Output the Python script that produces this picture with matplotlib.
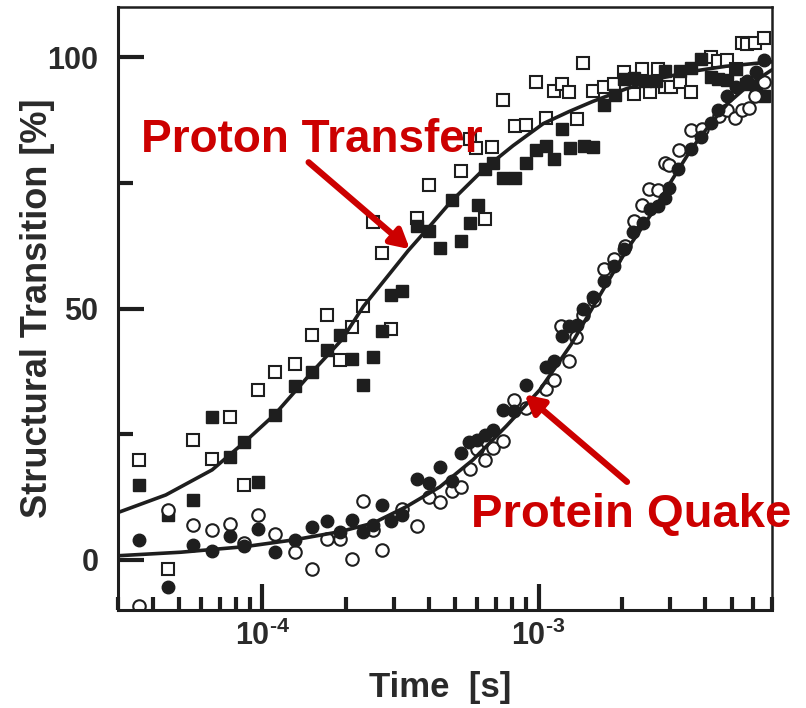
import numpy as np
import matplotlib
matplotlib.use("Agg")
import matplotlib.pyplot as plt
from matplotlib.ticker import FixedLocator, NullFormatter

plt.rcParams['font.family'] = ['Liberation Sans', 'DejaVu Sans']
plt.rcParams['font.weight'] = 'bold'
plt.rcParams['mathtext.fontset'] = 'custom'
plt.rcParams['mathtext.rm'] = 'Liberation Sans:bold'
plt.rcParams['mathtext.bf'] = 'Liberation Sans:bold'
plt.rcParams['mathtext.default'] = 'bf'

# proton transfer, filled squares
pt_filled_t = [3.56e-5, 4.57e-5, 5.60e-5, 6.58e-5, 7.62e-5, 8.61e-5, 9.62e-5, 1.108e-4, 1.315e-4,
               1.515e-4, 1.717e-4, 1.912e-4, 2.108e-4, 2.309e-4, 2.522e-4, 2.704e-4, 2.914e-4,
               3.21e-4, 3.62e-4, 4.02e-4, 4.39e-4, 4.84e-4, 5.22e-4, 5.63e-4, 6.04e-4, 6.38e-4,
               6.84e-4, 7.43e-4, 8.19e-4, 9.03e-4, 9.81e-4, 1.06e-3, 1.135e-3, 1.218e-3, 1.294e-3,
               1.466e-3, 1.57e-3, 1.73e-3, 1.89e-3, 2.04e-3, 2.22e-3, 2.43e-3, 2.66e-3, 2.87e-3,
               3.25e-3, 3.56e-3, 3.87e-3, 4.20e-3, 4.48e-3, 4.83e-3, 5.17e-3, 5.62e-3, 6.12e-3,
               6.55e-3]
pt_filled_y = [14.9, 9.0, 11.8, 28.5, 20.5, 23.4, 15.5, 28.9, 34.5,
               37.4, 41.7, 44.8, 40.0, 34.7, 40.4, 45.5, 52.6,
               53.5, 66.4, 65.4, 62.1, 71.6, 63.4, 67.1, 70.5, 77.7,
               79.0, 76.0, 76.0, 78.9, 81.5, 82.3, 79.8, 85.7, 82.0,
               82.3, 82.1, 90.4, 92.4, 95.6, 95.8, 95.3, 95.3, 97.3,
               97.3, 97.9, 99.6, 96.0, 95.6, 95.5, 97.6, 94.6, 94.3,
               92.2]

# proton transfer, open squares
pt_open_t = [3.56e-5, 4.57e-5, 5.60e-5, 6.58e-5, 7.62e-5, 8.61e-5, 9.62e-5, 1.108e-4, 1.315e-4,
             1.515e-4, 1.717e-4, 1.912e-4, 2.108e-4, 2.309e-4, 2.522e-4, 2.704e-4, 2.914e-4,
             3.62e-4, 4.02e-4, 5.22e-4, 5.63e-4, 5.93e-4, 6.38e-4, 6.80e-4, 7.43e-4, 8.19e-4,
             9.03e-4, 9.81e-4, 1.06e-3, 1.14e-3, 1.218e-3, 1.29e-3, 1.372e-3, 1.45e-3, 1.57e-3,
             1.73e-3, 1.88e-3, 2.04e-3, 2.22e-3, 2.37e-3, 2.53e-3, 2.70e-3, 2.87e-3, 3.01e-3,
             3.25e-3, 3.56e-3, 4.20e-3, 4.48e-3, 4.83e-3, 5.17e-3, 5.44e-3, 5.69e-3, 6.10e-3,
             6.55e-3]
pt_open_y = [19.9, -1.9, 23.9, 20.0, 28.4, 14.9, 33.7, 37.3, 38.9,
             44.7, 48.8, 39.7, 46.3, 50.5, 67.2, 61.1, 46.0,
             68.1, 74.5, 77.4, 83.7, 82.0, 67.8, 82.2, 91.5, 86.3,
             86.5, 95.0, 88.0, 93.3, 94.6, 93.0, 87.8, 98.9, 93.3,
             94.0, 94.6, 97.0, 92.6, 97.6, 93.0, 97.7, 94.0, 94.0,
             95.1, 93.0, 100.1, 99.3, 99.5, 97.6, 102.8, 102.6, 102.9,
             103.9]

# protein quake, filled circles
pq_filled_t = [3.56e-5, 4.57e-5, 5.60e-5, 6.58e-5, 7.62e-5, 8.61e-5, 9.62e-5, 1.108e-4, 1.315e-4,
               1.515e-4, 1.717e-4, 1.912e-4, 2.108e-4, 2.309e-4, 2.522e-4, 2.704e-4, 2.914e-4,
               3.21e-4, 3.62e-4, 4.02e-4, 4.39e-4, 4.84e-4, 5.22e-4, 5.60e-4, 5.96e-4, 6.38e-4,
               6.84e-4, 7.43e-4, 8.12e-4, 9.03e-4, 1.06e-3, 1.135e-3, 1.218e-3, 1.286e-3, 1.375e-3,
               1.445e-3, 1.57e-3, 1.73e-3, 1.88e-3, 2.04e-3, 2.20e-3, 2.38e-3, 2.53e-3, 2.70e-3,
               2.86e-3, 2.97e-3, 3.21e-3, 3.56e-3, 3.87e-3, 4.20e-3, 4.48e-3, 4.83e-3, 5.17e-3,
               5.69e-3, 6.12e-3, 6.55e-3]
pq_filled_y = [3.85, -5.4, 3.0, 1.65, 4.65, 2.8, 6.2, 1.46, 4.0,
               6.5, 7.8, 5.6, 8.0, 5.45, 7.0, 10.8, 7.8,
               9.0, 16.1, 15.3, 18.5, 15.6, 21.3, 23.4, 23.9, 24.9,
               25.8, 29.9, 29.6, 34.7, 38.4, 39.6, 44.5, 46.6, 46.8,
               49.9, 52.3, 55.4, 58.4, 61.8, 65.2, 67.1, 69.9, 70.4,
               72.0, 74.0, 77.7, 81.7, 84.2, 86.9, 89.5, 92.2, 94.0,
               95.3, 97.0, 99.5]

# protein quake, open circles
pq_open_t = [3.56e-5, 4.57e-5, 5.60e-5, 6.58e-5, 7.62e-5, 8.61e-5, 9.62e-5, 1.108e-4, 1.315e-4,
             1.515e-4, 1.717e-4, 1.912e-4, 2.108e-4, 2.309e-4, 2.522e-4, 2.704e-4, 3.21e-4,
             3.62e-4, 4.02e-4, 4.39e-4, 4.84e-4, 5.22e-4, 5.63e-4, 5.96e-4, 6.38e-4, 6.84e-4,
             7.43e-4, 8.12e-4, 9.03e-4, 1.06e-3, 1.135e-3, 1.21e-3, 1.29e-3, 1.37e-3, 1.45e-3,
             1.59e-3, 1.72e-3, 1.88e-3, 2.05e-3, 2.21e-3, 2.37e-3, 2.52e-3, 2.70e-3, 2.86e-3,
             2.97e-3, 3.22e-3, 3.56e-3, 3.91e-3, 4.50e-3, 4.83e-3, 5.15e-3, 5.44e-3, 5.78e-3,
             6.10e-3, 6.55e-3]
pq_open_y = [-9.3, 9.96, 7.0, 6.0, 7.2, 3.3, 9.0, 5.2, 1.46,
             -1.9, 4.1, 4.1, 0.14, 11.6, 6.0, 1.86, 10.1,
             6.8, 12.5, 11.4, 13.6, 14.5, 18.1, 22.0, 19.8, 22.2,
             23.6, 31.7, 30.2, 33.9, 35.8, 46.6, 39.5, 44.4, 48.8,
             51.7, 57.8, 59.8, 62.5, 67.4, 70.5, 73.7, 73.6, 79.0,
             78.5, 81.5, 85.5, 85.7, 88.3, 89.6, 88.0, 89.5, 90.0,
             92.2, 95.0]

# fitted curves
pt_fit_t = [3.0e-5, 4.47e-5, 6.58e-5, 8.61e-5, 1.108e-4, 1.515e-4, 1.94e-4, 2.32e-4, 3.37e-4,
            3.98e-4, 4.84e-4, 6.30e-4, 8.08e-4, 1.04e-3, 1.29e-3, 1.57e-3, 2.07e-3, 2.74e-3,
            3.60e-3, 4.76e-3, 7.0e-3]
pt_fit_y = [9.4, 12.9, 17.9, 23.4, 28.9, 37.4, 43.8, 50.4, 61.5,
            66.0, 71.4, 77.6, 82.4, 86.8, 89.2, 91.2, 93.7, 95.8,
            97.2, 98.2, 99.1]

pq_fit_t = [3.0e-5, 5.06e-5, 8.61e-5, 1.315e-4, 1.912e-4, 2.52e-4, 3.33e-4, 4.39e-4, 5.79e-4,
            7.64e-4, 1.01e-3, 1.31e-3, 1.62e-3, 2.07e-3, 2.58e-3, 3.05e-3, 3.57e-3, 4.21e-3,
            4.88e-3, 5.78e-3, 7.0e-3]
pq_fit_y = [0.8, 1.5, 2.6, 4.0, 5.6, 7.3, 10.6, 14.5, 19.9,
            26.6, 33.8, 42.8, 51.5, 61.4, 69.1, 75.7, 81.7, 86.9,
            91.0, 94.5, 97.5]

dark = '#1e1e1e'
red = '#cc0000'

fig = plt.figure(figsize=(8.06, 7.08), dpi=100)
ax = fig.add_axes([0.1464, 0.1384, 0.8114, 0.8517])

ax.plot(pt_open_t, pt_open_y, 's', ms=8, mfc='white', mec=dark, mew=1.5, ls='none')
ax.plot(pt_filled_t, pt_filled_y, 's', ms=8, color=dark, ls='none')
ax.plot(pq_open_t, pq_open_y, 'o', ms=9, mfc='white', mec=dark, mew=1.5, ls='none')
ax.plot(pq_filled_t, pq_filled_y, 'o', ms=9, color=dark, ls='none')
ax.plot(pt_fit_t, pt_fit_y, '-', color=dark, lw=2.6)
ax.plot(pq_fit_t, pq_fit_y, '-', color=dark, lw=2.6)

ax.set_xscale('log')
ax.set_xlim(3e-5, 7e-3)
ax.set_ylim(-10, 110)

# ticks
ax.xaxis.set_major_locator(FixedLocator([1e-4, 1e-3]))
ax.set_xticklabels([r'$\mathbf{10^{\text{-4}}}$', r'$\mathbf{10^{\text{-3}}}$'])
minor_x = [m * 10.0 ** e for e in (-5, -4, -3) for m in range(2, 10)]
ax.xaxis.set_minor_locator(FixedLocator(minor_x))
ax.xaxis.set_minor_formatter(NullFormatter())
ax.set_yticks([0, 50, 100])
ax.set_yticks([25, 75], minor=True)

ax.tick_params(axis='both', which='both', direction='in', color=dark, width=3)
ax.tick_params(axis='x', which='major', length=19, labelsize=22, pad=8)
ax.tick_params(axis='x', which='minor', length=9.5)
ax.tick_params(axis='y', which='major', length=19, labelsize=22, pad=14)
ax.tick_params(axis='y', which='minor', length=11)
ax.tick_params(top=False, right=False, which='both')
for lab in ax.get_yticklabels() + ax.get_xticklabels():
    lab.set_fontweight('bold')
    lab.set_color('#2a2a2a')

for side in ['left', 'bottom']:
    ax.spines[side].set_linewidth(2.2)
for side in ['top', 'right']:
    ax.spines[side].set_linewidth(1.8)
for s in ax.spines.values():
    s.set_color(dark)

fig.text(38 / 806, 1 - 308 / 708, 'Structural Transition [%]', rotation=90,
         ha='center', va='center', fontsize=26, fontweight='bold', color='#2a2a2a')
fig.text(440 / 806, 1 - 688 / 708, 'Time  [s]', ha='center', va='center',
         fontsize=25, fontweight='bold', color='#2a2a2a')

# annotations
ax.text(3.63e-5, 83.5, 'Proton Transfer', color=red, fontsize=33, fontweight='bold',
        ha='left', va='center')
ax.text(5.68e-4, 9.0, 'Protein Quake', color=red, fontsize=34, fontweight='bold',
        ha='left', va='center', clip_on=False)
ax.annotate('', xy=(3.42e-4, 61.8), xytext=(1.47e-4, 79.1),
            arrowprops=dict(arrowstyle='-|>,head_length=1.1,head_width=0.6', color=red, lw=4.5,
                            shrinkA=0, shrinkB=0))
ax.annotate('', xy=(8.9e-4, 32.9), xytext=(2.09e-3, 15.5),
            arrowprops=dict(arrowstyle='-|>,head_length=1.1,head_width=0.6', color=red, lw=4.5,
                            shrinkA=0, shrinkB=0))

fig.savefig('out.png', dpi=100)
